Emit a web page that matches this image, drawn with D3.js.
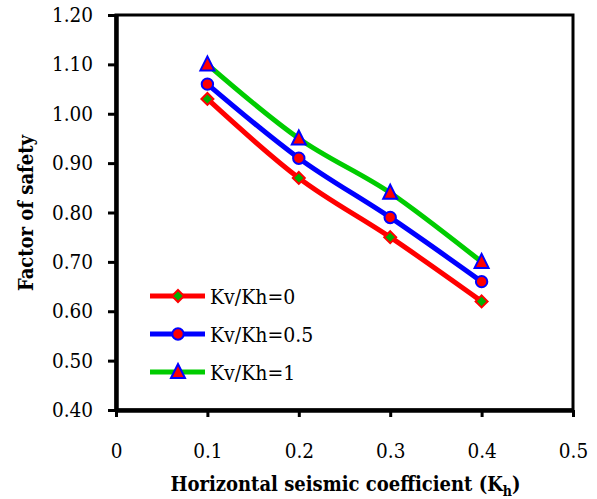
<!DOCTYPE html>
<head>
<meta charset="utf-8">
<title>Factor of safety</title>
<style>
  body { margin:0; background:#fff; }
  svg { display:block; }
</style>
</head>
<body>
<script src="https://d3js.org/d3.v7.min.js"></script>
<script>
// data
var kh = [0.1, 0.2, 0.3, 0.4];
var fsKv0 = [1.03, 0.87, 0.75, 0.62];
var fsKv05 = [1.06, 0.91, 0.79, 0.66];
var fsKv1 = [1.10, 0.95, 0.84, 0.70];
var seriesNames = ["Kv/Kh=0", "Kv/Kh=0.5", "Kv/Kh=1"];
var xTicks = [0, 0.1, 0.2, 0.3, 0.4, 0.5];
var yTicks = [0.40, 0.50, 0.60, 0.70, 0.80, 0.90, 1.00, 1.10, 1.20];

var width = 597, height = 499;
var plotLeft = 116, plotRight = 573, plotTop = 15, plotBottom = 410;
var serif = "'DejaVu Serif Condensed', 'DejaVu Serif', serif";

var svg = d3.select("body").append("svg")
    .attr("width", width).attr("height", height)
    .attr("font-family", serif);

var x = d3.scaleLinear().domain([0, 0.5]).range([plotLeft, plotRight]);
var y = d3.scaleLinear().domain([0.4, 1.2]).range([plotBottom, plotTop]);

// frame (top / right thinner than the axes)
svg.append("rect")
    .attr("x", plotLeft).attr("y", plotTop)
    .attr("width", plotRight - plotLeft).attr("height", plotBottom - plotTop)
    .attr("fill", "none").attr("stroke", "#000").attr("stroke-width", 3);

// axes
var xAxis = svg.append("g").attr("transform", "translate(0," + plotBottom + ")")
    .call(d3.axisBottom(x).tickValues(xTicks).tickSizeInner(7).tickSizeOuter(0).tickPadding(26)
        .tickFormat(function(d) { return d === 0 ? "0" : d3.format(".1f")(d); }));
var yAxis = svg.append("g").attr("transform", "translate(" + plotLeft + ",0)")
    .call(d3.axisLeft(y).tickValues(yTicks).tickSizeInner(8).tickSizeOuter(0).tickPadding(15)
        .tickFormat(d3.format(".2f")));
[xAxis, yAxis].forEach(function(a) {
  a.attr("font-family", serif).attr("font-size", 20.5);
  a.select(".domain").attr("stroke", "#000").attr("stroke-width", 4.5);
  a.selectAll(".tick line").attr("stroke", "#000").attr("stroke-width", 3);
  a.selectAll("text").attr("fill", "#000");
});

// axis titles
svg.append("text")
    .attr("x", (plotLeft + plotRight) / 2 + 1).attr("y", 491)
    .attr("text-anchor", "middle")
    .attr("font-size", 20).attr("font-weight", "bold")
    .html('Horizontal seismic coefficient (K<tspan dy="5" font-size="14">h</tspan><tspan dy="-5">)</tspan>');

svg.append("text")
    .attr("transform", "translate(33,213) rotate(-90)")
    .attr("text-anchor", "middle")
    .attr("font-size", 20).attr("font-weight", "bold")
    .text("Factor of safety");

var line = d3.line()
    .x(function(d, i) { return x(kh[i]); })
    .y(function(d) { return y(d); })
    .curve(d3.curveCardinal.tension(0));

var series = [
  { name: seriesNames[0], values: fsKv0, color: "#ff0000", marker: "diamond", fill: "#00b000", stroke: "#ff0000" },
  { name: seriesNames[1], values: fsKv05, color: "#0000ff", marker: "circle", fill: "#ff0000", stroke: "#0000ff" },
  { name: seriesNames[2], values: fsKv1, color: "#00cc00", marker: "triangle", fill: "#ff0000", stroke: "#0000ff" }
];

function drawMarker(g, type, cx, cy, s) {
  if (type === "circle") {
    g.append("circle").attr("cx", cx).attr("cy", cy).attr("r", 5.7)
      .attr("fill", s.fill).attr("stroke", s.stroke).attr("stroke-width", 2);
  } else if (type === "diamond") {
    g.append("path").attr("d", "M" + cx + "," + (cy - 6) + "L" + (cx + 6) + "," + cy +
        "L" + cx + "," + (cy + 6) + "L" + (cx - 6) + "," + cy + "Z")
      .attr("fill", s.fill).attr("stroke", s.stroke).attr("stroke-width", 2);
  } else {
    g.append("path").attr("d", "M" + cx + "," + (cy - 8) + "L" + (cx + 7) + "," + (cy + 6) +
        "L" + (cx - 7) + "," + (cy + 6) + "Z")
      .attr("fill", s.fill).attr("stroke", s.stroke).attr("stroke-width", 2);
  }
}

series.forEach(function(s) {
  svg.append("path").datum(s.values)
    .attr("d", line)
    .attr("fill", "none").attr("stroke", s.color).attr("stroke-width", 5);
});
series.forEach(function(s) {
  var g = svg.append("g");
  s.values.forEach(function(v, i) { drawMarker(g, s.marker, x(kh[i]), y(v), s); });
});

// legend
var legendY = [296, 334, 372];
series.forEach(function(s, i) {
  var g = svg.append("g");
  g.append("line").attr("x1", 150).attr("x2", 205)
    .attr("y1", legendY[i]).attr("y2", legendY[i])
    .attr("stroke", s.color).attr("stroke-width", 5);
  drawMarker(g, s.marker, 178, legendY[i], s);
  g.append("text").attr("x", 210).attr("y", legendY[i] + 8)
    .attr("font-size", 21).text(s.name);
});
</script>
</body>
